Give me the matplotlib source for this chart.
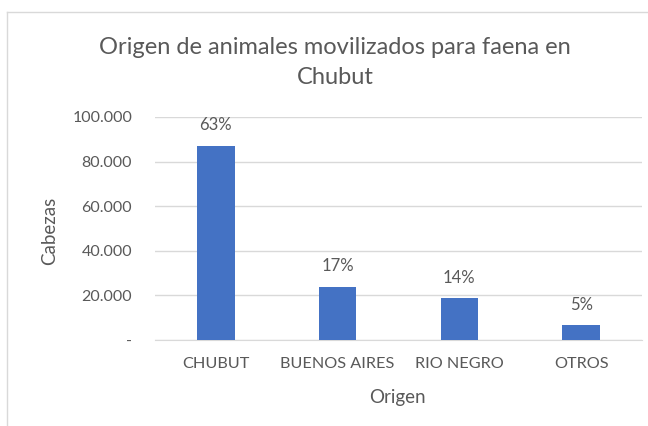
import matplotlib
matplotlib.use("Agg")
import matplotlib.pyplot as plt
from matplotlib.lines import Line2D
from matplotlib.ticker import FuncFormatter

categories = ["CHUBUT", "BUENOS AIRES", "RIO NEGRO", "OTROS"]
values = [87000, 23800, 18800, 6700]
pct_labels = ["63%", "17%", "14%", "5%"]
yticks = [0, 20000, 40000, 60000, 80000, 100000]

plt.rcParams['font.family'] = ['Lato', 'DejaVu Sans']
TXT = "#595959"
W, H = 648, 426
fig = plt.figure(figsize=(W / 100, H / 100), dpi=100)
fig.patch.set_facecolor("white")

ax = fig.add_axes([155 / W, (H - 340) / H, (642 - 155) / W, (340 - 117) / H])
x = range(len(categories))
ax.bar(x, values, width=0.31, color="#4472C4", zorder=3)
ax.set_xlim(-0.5, len(categories) - 0.5)
ax.set_ylim(0, 100000)
ax.set_yticks(yticks)
ax.yaxis.set_major_formatter(FuncFormatter(lambda v, p: "-" if v == 0 else f"{int(v):,}".replace(",", ".")))
ax.set_xticks(list(x))
ax.set_xticklabels(categories)
ax.grid(axis="y", color="#D9D9D9", linewidth=1.0, zorder=0)
for s in ["top", "right", "left"]:
    ax.spines[s].set_visible(False)
ax.spines["bottom"].set_color("#D9D9D9")
ax.tick_params(axis="both", length=0, colors=TXT)
ax.tick_params(axis="y", pad=16.5, labelsize=11.5)
ax.tick_params(axis="x", pad=12, labelsize=11.7)

for i, (v, lab) in enumerate(zip(values, pct_labels)):
    ax.annotate(lab, (i, v), xytext=(0, 9), textcoords="offset points",
                ha="center", va="bottom", color=TXT, fontsize=12)

ax.set_xlabel("Origen", color=TXT, fontsize=13.5)
ax.xaxis.set_label_coords((397 - 155) / (642 - 155), (340 - 398) / (340 - 117))
ax.xaxis.label.set_va("center")
ax.set_ylabel("Cabezas", color=TXT, fontsize=13.5)
ax.yaxis.set_label_coords((50 - 155) / (642 - 155), (340 - 231) / (340 - 117))
ax.yaxis.label.set_va("center")

fig.text(335 / W, (H - 47) / H, "Origen de animales movilizados para faena en",
         ha="center", va="center", color=TXT, fontsize=17)
fig.text(335 / W, (H - 77) / H, "Chubut",
         ha="center", va="center", color=TXT, fontsize=17)

fig.add_artist(Line2D([7 / W, 7 / W], [0, (H - 12) / H], transform=fig.transFigure, color="#D9D9D9", lw=1))
fig.add_artist(Line2D([7 / W, 1], [(H - 12) / H, (H - 12) / H], transform=fig.transFigure, color="#D9D9D9", lw=1))

fig.savefig("out.png", dpi=100)
